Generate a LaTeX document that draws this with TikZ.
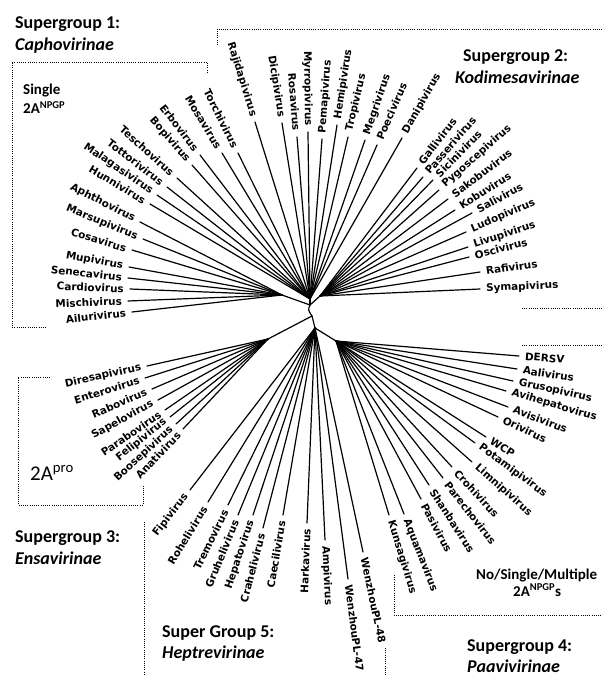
\documentclass[tikz,border=0pt]{standalone}
\usepackage{fontspec}
\setmainfont{Carlito}
\newfontfamily\lblfont{DejaVu Sans}
\usetikzlibrary{calc}
\tikzset{
  br/.style={line width=1.2pt, line cap=round},
  lab/.style={font=\lblfont\bfseries\fontsize{10.4}{12}\selectfont, inner xsep=6pt, inner ysep=1pt},
  dotln/.style={dash pattern=on 0.9pt off 1.3pt, line width=0.9pt},
  sg/.style={font=\bfseries\fontsize{18}{21}\selectfont, anchor=base west, inner sep=0pt},
  sgi/.style={font=\bfseries\itshape\fontsize{18}{21}\selectfont, anchor=base west, inner sep=0pt},
  note/.style={font=\bfseries\fontsize{15}{18}\selectfont, anchor=base west, inner sep=0pt},
  pronote/.style={font=\fontsize{21}{24}\selectfont, anchor=base west, inner sep=0pt},
}
\newcommand\lfR[3]{%
  \coordinate (t#3) at (#2);
  \draw[br] (#1) -- (t#3);
  \path let \p1=($(t#3)-(#1)$), \n1={atan2(\y1,\x1)} in
    node[lab,anchor=west,rotate=\n1] (n#3) at (t#3) {#3};}
\newcommand\lfL[3]{%
  \coordinate (t#3) at (#2);
  \draw[br] (#1) -- (t#3);
  \path let \p1=($(t#3)-(#1)$), \n1={atan2(\y1,\x1)} in
    node[lab,anchor=east,rotate=\n1-180] (n#3) at (t#3) {#3};}
\begin{document}
\begin{tikzpicture}[x=1pt,y=-1pt]
\useasboundingbox (0,0) rectangle (602,676);
% hubs
\coordinate (C0) at (310,305);
\coordinate (C1) at (312,316);
\coordinate (HT) at (310,299);
\coordinate (HL) at (282,295);
\coordinate (HR) at (320,296);
\coordinate (H3) at (268,339);
\coordinate (HB) at (315,328);
\coordinate (H4) at (336,341);
\draw[br] (HT) -- (C0);
\draw[br] (HL) -- (C0);
\draw[br] (HR) -- (C0);
\draw[br] (C0) .. controls (308,310) .. (C1);
\draw[br] (C1) -- (H3);
\draw[br] (C1) -- (HB);
\draw[br] (HB) -- (H4);
% Supergroup 1
\lfL{HL}{132,312}{Ailurivirus}
\lfL{HL}{128,301}{Mischivirus}
\lfL{HL}{130,289}{Cardiovirus}
\lfL{HL}{128,278}{Senecavirus}
\lfL{HL}{129,267}{Mupivirus}
\lfL{HL}{132,250}{Cosavirus}
\lfL{HL}{143,239}{Marsupivirus}
\lfL{HL}{140,222}{Aphthovirus}
\lfL{HT}{150,204}{Hunnivirus}
\lfL{HT}{157,195}{Malagasivirus}
\lfL{HT}{167,187}{Tottorivirus}
\lfL{HT}{177,178}{Teschovirus}
\lfL{HT}{192,165}{Bopivirus}
\lfL{HT}{200,155}{Erbovirus}
\lfL{HT}{222,153}{Mosavirus}
\lfL{HT}{238,153}{Torchivirus}
% Supergroup 2
\lfL{HT}{255,122}{Rajidapivirus}
\lfL{HT}{282,123}{Dicipivirus}
\lfL{HT}{297,137}{Rosavirus}
\lfL{HT}{308,132}{Myrropivirus}
\lfR{HT}{322,139}{Pemapivirus}
\lfR{HT}{337,125}{Hemipivirus}
\lfR{HT}{348,137}{Tropivirus}
\lfR{HT}{365,140}{Megrivirus}
\lfR{HT}{377,145}{Poecivirus}
\lfR{HT}{402,138}{Danipivirus}
\lfR{HR}{417,168}{Gallivirus}
\lfR{HR}{423,177}{Passerivirus}
\lfR{HR}{433,180}{Sicinivirus}
\lfR{HR}{439,190}{Pygoscepivirus}
\lfR{HR}{448,199}{Sakobuvirus}
\lfR{HR}{455,210}{Kobuvirus}
\lfR{HR}{472,213}{Salivirus}
\lfR{HR}{466,232}{Ludopivirus}
\lfR{HR}{468,247}{Livupivirus}
\lfR{HR}{469,257}{Oscivirus}
\lfR{HR}{480,272}{Rafivirus}
\lfR{HR}{480,289}{Symapivirus}
% Supergroup 3
\lfL{H3}{147,366}{Diresapivirus}
\lfL{H3}{145,378}{Enterovirus}
\lfL{H3}{152,389}{Rabovirus}
\lfL{H3}{158,400}{Sapelovirus}
\lfL{H3}{165,410}{Parabovirus}
\lfL{H3}{170,417}{Felipivirus}
\lfL{H3}{176,424}{Boosepivirus}
\lfL{H3}{183,429}{Anativirus}
% Supergroup 5
\lfL{HB}{190,490}{Fipivirus}
\lfL{HB}{208,502}{Rohelivirus}
\lfL{HB}{228,505}{Tremovirus}
\lfL{HB}{238,515}{Gruhelivirus}
\lfL{HB}{253,515}{Hepatovirus}
\lfL{HB}{263,528}{Crahelivirus}
\lfL{HB}{283,515}{Caecilivirus}
\lfL{HB}{307,523}{Harkavirus}
\lfR{HB}{325,540}{Ampivirus}
\lfR{HB}{348,579}{WenzhouPL-47}
\lfR{HB}{363,552}{WenzhouPL-48}
% Supergroup 4
\lfR{H4}{389,515}{Kunsagivirus}
\lfR{H4}{404,514}{Aquamavirus}
\lfR{H4}{421,499}{Pasivirus}
\lfR{H4}{429,485}{Shanbavirus}
\lfR{H4}{443,478}{Parechovirus}
\lfR{H4}{452,467}{Crohivirus}
\lfR{H4}{472,462}{Limnipivirus}
\lfR{H4}{475,443}{Potamipivirus}
\lfR{H4}{486,437}{WCP}
\lfR{H4}{498,417}{Orivirus}
\lfR{H4}{508,407}{Avisivirus}
\lfR{H4}{506,391}{Avihepatovirus}
\lfR{H4}{513,381}{Grusopivirus}
\lfR{H4}{517,369}{Aalivirus}
\lfR{H4}{519,356}{DERSV}
% dotted group frames
\draw[dotln] (46,327) -- (12,327) -- (12,62) -- (207,62) -- (207,72);
\draw[dotln] (217,45) -- (217,29) -- (602,29);
\draw[dotln] (522,308) -- (602,308);
\draw[dotln] (522,345) -- (602,345);
\draw[dotln] (50,377) -- (18,377) -- (18,505) -- (143,505) -- (143,485);
\draw[dotln] (144,522) -- (144,676);
\draw[dotln] (394,575) -- (394,615) -- (602,615);
\draw[dotln] (385,648) -- (385,676);
% titles
\node[sg] (sg1) at (15,29) {Supergroup 1:};
\node[sgi] (sg1n) at (15,51) {Caphovirinae};
\node[note] (single) at (23,95) {Single};
\node[note] (single2a) at (23,114) {2A\textsuperscript{NPGP}};
\node[sg] (sg2) at (463,62) {Supergroup 2:};
\node[sgi] (sg2n) at (455,84) {Kodimesavirinae};
\node[pronote] (pro) at (30,480) {2A\textsuperscript{pro}};
\node[sg] (sg3) at (15,542) {Supergroup 3:};
\node[sgi] (sg3n) at (15,564) {Ensavirinae};
\node[sg] (sg5) at (162,637) {Super Group 5:};
\node[sgi] (sg5n) at (162,658) {Heptrevirinae};
\node[sg] (sg4) at (467,651) {Supergroup 4:};
\node[sgi] (sg4n) at (467,672) {Paavivirinae};
\node[note] (multi) at (476,579) {No/Single/Multiple};
\node[note] (multi2a) at (513,596) {2A\textsuperscript{NPGP}s};
\end{tikzpicture}
\end{document}
